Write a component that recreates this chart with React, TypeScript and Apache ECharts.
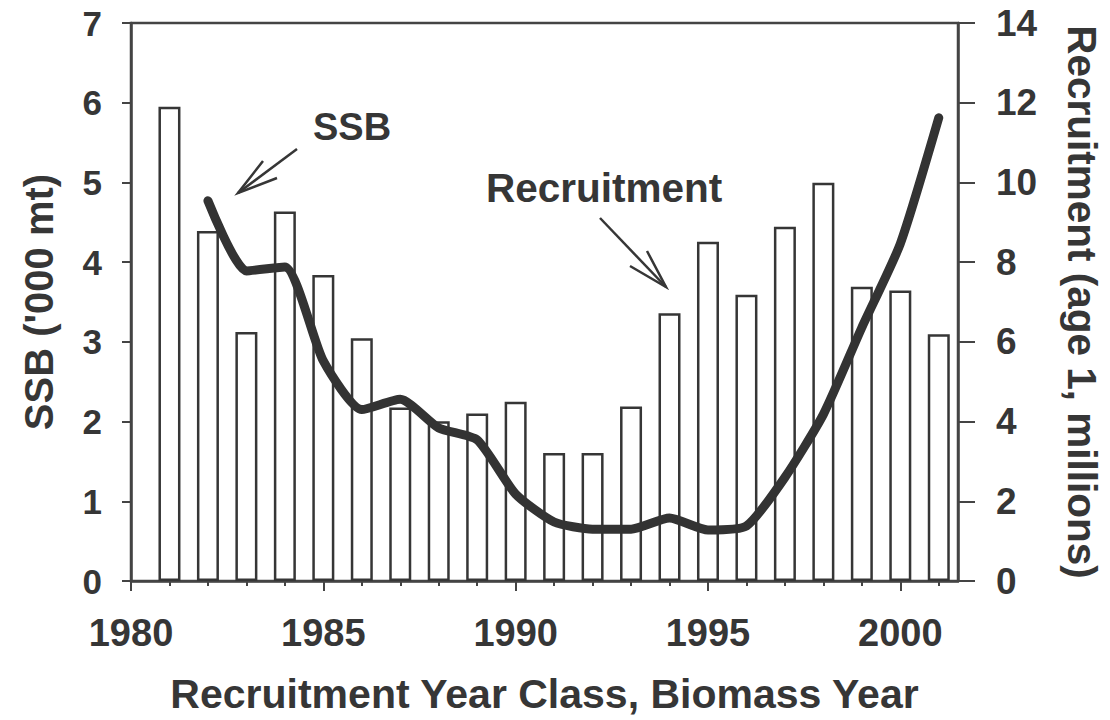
import React, { useEffect, useRef } from "react";
import * as echarts from "echarts";

const barYears = [1981, 1982, 1983, 1984, 1985, 1986, 1987, 1988, 1989, 1990, 1991, 1992, 1993, 1994, 1995, 1996, 1997, 1998, 1999, 2000, 2001];
const recruitment = [11.9, 8.78, 6.25, 9.27, 7.68, 6.09, 4.35, 4.01, 4.2, 4.5, 3.21, 3.21, 4.38, 6.72, 8.51, 7.18, 8.89, 9.99, 7.38, 7.29, 6.19];

const ssbYears = [1982, 1983, 1984, 1985, 1986, 1987, 1988, 1989, 1990, 1991, 1992, 1993, 1994, 1995, 1996, 1997, 1998, 1999, 2000, 2001];
const ssb = [4.77, 3.89, 3.94, 2.76, 2.15, 2.28, 1.92, 1.77, 1.09, 0.74, 0.65, 0.65, 0.79, 0.64, 0.69, 1.3, 2.09, 3.18, 4.23, 5.81];

const minorTickYears = [1980, 1981, 1982, 1983, 1984, 1985, 1986, 1987, 1988, 1989, 1990, 1991, 1992, 1993, 1994, 1995, 1996, 1997, 1998, 1999, 2000, 2001];
const xTickLabels = [1980, 1985, 1990, 1995, 2000];

const FONT = '"Liberation Sans", Arial, sans-serif';
const INK = "#363636";
const AXIS = "#444444";

export default function App() {
  const ref = useRef<HTMLDivElement>(null);

  useEffect(() => {
    if (!ref.current) return;
    const chart = echarts.init(ref.current, null, { renderer: "svg" });

    const baseX = {
      type: "value",
      min: 1980,
      max: 2001.5,
      gridIndex: 0,
      position: "bottom",
      splitLine: { show: false },
    };

    const option: any = {
      animation: false,
      backgroundColor: "#ffffff",
      textStyle: { fontFamily: FONT },
      grid: {
        left: 131,
        right: 149,
        top: 23,
        bottom: 139,
        show: true,
        borderColor: AXIS,
        borderWidth: 2.5,
        backgroundColor: "transparent",
      },
      xAxis: [
        {
          ...baseX,
          name: "Recruitment Year Class, Biomass Year",
          nameLocation: "middle",
          nameGap: 92,
          nameTextStyle: { fontFamily: FONT, fontWeight: "bold", fontSize: 41, color: INK },
          axisLine: { show: true, lineStyle: { color: AXIS, width: 2.5 } },
          axisTick: { show: true, customValues: minorTickYears, length: 5, lineStyle: { color: AXIS, width: 2 } },
          axisLabel: {
            show: true,
            customValues: xTickLabels,
            margin: 33,
            fontFamily: FONT,
            fontWeight: "bold",
            fontSize: 38,
            color: INK,
            formatter: (v: number) => String(v),
          },
        },
        {
          ...baseX,
          axisLine: { show: false },
          axisTick: { show: true, customValues: xTickLabels, length: 10, lineStyle: { color: AXIS, width: 2 } },
          axisLabel: { show: false },
        },
      ],
      yAxis: [
        {
          type: "value",
          min: 0,
          max: 7,
          interval: 1,
          position: "left",
          name: "SSB ('000 mt)",
          nameLocation: "middle",
          nameGap: 72,
          nameTextStyle: { fontFamily: FONT, fontWeight: "bold", fontSize: 40, color: INK },
          axisLine: { show: true, lineStyle: { color: AXIS, width: 2.5 } },
          axisTick: { show: true, length: 9, lineStyle: { color: AXIS, width: 2 } },
          axisLabel: { margin: 29, fontFamily: FONT, fontWeight: "bold", fontSize: 35, color: INK },
          splitLine: { show: false },
        },
        {
          type: "value",
          min: 0,
          max: 14,
          interval: 2,
          position: "right",
          name: "Recruitment (age 1, millions)",
          nameLocation: "middle",
          nameRotate: -90,
          nameGap: 103,
          nameTextStyle: { fontFamily: FONT, fontWeight: "bold", fontSize: 40.5, color: INK },
          axisLine: { show: true, lineStyle: { color: AXIS, width: 2.5 } },
          axisTick: { show: true, length: 17, lineStyle: { color: AXIS, width: 2 } },
          axisLabel: { margin: 38, fontFamily: FONT, fontWeight: "bold", fontSize: 37, color: INK },
          splitLine: { show: false },
        },
      ],
      series: [
        {
          type: "bar",
          name: "Recruitment",
          xAxisIndex: 0,
          yAxisIndex: 1,
          barWidth: 22,
          data: barYears.map((y, i) => [y, recruitment[i]]),
          itemStyle: { color: "#ffffff", borderColor: INK, borderWidth: 2.5 },
          z: 2,
        },
        {
          type: "line",
          name: "SSB",
          xAxisIndex: 0,
          yAxisIndex: 0,
          data: ssbYears.map((y, i) => [y, ssb[i]]),
          smooth: 0.2,
          showSymbol: false,
          symbol: "none",
          lineStyle: { color: "#333333", width: 9, cap: "round", join: "round" },
          z: 5,
        },
      ],
      graphic: [
        {
          type: "text",
          left: 313,
          top: 108,
          style: { text: "SSB", fontFamily: FONT, fontWeight: "bold", fontSize: 38, fill: INK },
          z: 10,
        },
        {
          type: "text",
          left: 486,
          top: 167,
          style: { text: "Recruitment", fontFamily: FONT, fontWeight: "bold", fontSize: 40.5, fill: INK },
          z: 10,
        },
        {
          type: "line",
          shape: { x1: 297, y1: 149, x2: 238, y2: 193 },
          style: { stroke: INK, lineWidth: 2.5 },
          z: 10,
        },
        {
          type: "polyline",
          shape: { points: [[263, 161], [238, 193], [277, 178]] },
          style: { stroke: INK, lineWidth: 2.5, fill: null },
          z: 10,
        },
        {
          type: "line",
          shape: { x1: 600, y1: 218, x2: 666, y2: 287 },
          style: { stroke: INK, lineWidth: 2.5 },
          z: 10,
        },
        {
          type: "polyline",
          shape: { points: [[647, 251], [666, 287], [630, 266]] },
          style: { stroke: INK, lineWidth: 2.5, fill: null },
          z: 10,
        },
      ],
    };

    chart.setOption(option);
    return () => chart.dispose();
  }, []);

  return (
    <div
      ref={ref}
      style={{ position: "absolute", left: 0, top: 0, width: 1110, height: 720, background: "#fff" }}
    />
  );
}
